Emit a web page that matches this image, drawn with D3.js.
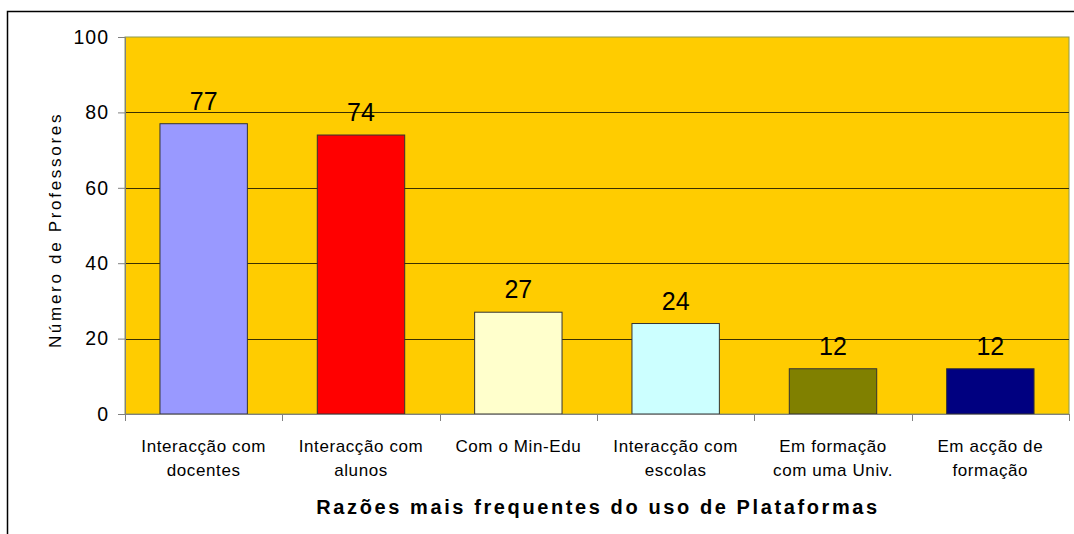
<!DOCTYPE html>
<html>
<head>
<meta charset="utf-8">
<script src="https://cdn.jsdelivr.net/npm/d3@7"></script>
<style>
  body { margin: 0; background: #fff; }
  text { font-family: "Liberation Sans", Arial, sans-serif; fill: #000; }
</style>
</head>
<body>
<div id="container"></div>
<script>
/* CONSTANTS AND GLOBALS */
const width = 1074;
const height = 534;
const margin = { top: 37, right: 5, bottom: 120, left: 125 };

/* DATA */
const categories = [
  ["Interacção com", "docentes"],
  ["Interacção com", "alunos"],
  ["Com o Min-Edu"],
  ["Interacção com", "escolas"],
  ["Em formação", "com uma Univ."],
  ["Em acção de", "formação"]
];
const values = [77, 74, 27, 24, 12, 12];
const colors = ["#9999FF", "#FF0000", "#FFFFCC", "#CCFFFF", "#808000", "#000080"];
const yTicks = [0, 20, 40, 60, 80, 100];

const svg = d3.select("#container")
  .append("svg")
  .attr("width", width)
  .attr("height", height);

// outer chart frame
svg.append("rect")
  .attr("x", 7.5).attr("y", 11.5)
  .attr("width", width + 10).attr("height", height)
  .attr("fill", "none")
  .attr("stroke", "#000")
  .attr("stroke-width", 1.5);

/* SCALES */
const xScale = d3.scaleBand()
  .domain(d3.range(values.length))
  .range([margin.left, width - margin.right])
  .paddingInner(0.8 / 1.8)
  .paddingOuter(0.4 / 1.8);

const xStep = (width - margin.right - margin.left) / values.length;

const yScale = d3.scaleLinear()
  .domain([0, 100])
  .range([height - margin.bottom, margin.top]);

// plot area background
svg.append("rect")
  .attr("x", margin.left)
  .attr("y", margin.top)
  .attr("width", width - margin.right - margin.left)
  .attr("height", yScale(0) - margin.top)
  .attr("fill", "#FFCC00")
  .attr("stroke", "#8C9A50")
  .attr("stroke-width", 1);

// gridlines
svg.append("g")
  .selectAll("line")
  .data(yTicks.filter(d => d > 0 && d < 100))
  .join("line")
  .attr("x1", margin.left)
  .attr("x2", width - margin.right)
  .attr("y1", d => Math.round(yScale(d)) + 0.5)
  .attr("y2", d => Math.round(yScale(d)) + 0.5)
  .attr("stroke", "#3a3000")
  .attr("stroke-width", 1);

/* BARS */
svg.append("g")
  .selectAll("rect")
  .data(values)
  .join("rect")
  .attr("x", (d, i) => xScale(i))
  .attr("y", d => yScale(d))
  .attr("width", xScale.bandwidth())
  .attr("height", d => yScale(0) - yScale(d))
  .attr("fill", (d, i) => colors[i])
  .attr("stroke", "#333")
  .attr("stroke-width", 1);

// value labels
svg.append("g")
  .selectAll("text")
  .data(values)
  .join("text")
  .attr("x", (d, i) => xScale(i) + xScale.bandwidth() / 2)
  .attr("y", d => yScale(d) - 14)
  .attr("text-anchor", "middle")
  .style("font-size", "25px")
  .text(d => d);

/* AXES */
const yAxis = d3.axisLeft(yScale).tickValues(yTicks).tickSize(7).tickPadding(9);
const gy = svg.append("g")
  .attr("transform", `translate(${margin.left}, 0)`)
  .call(yAxis);
gy.select(".domain").attr("stroke", "#808080");
gy.selectAll(".tick line").attr("stroke", "#808080");
gy.selectAll(".tick text")
  .attr("font-family", null)
  .style("font-size", "19.5px")
  .style("letter-spacing", "1px");

// x axis line and ticks at category boundaries
svg.append("line")
  .attr("x1", margin.left).attr("x2", width - margin.right)
  .attr("y1", yScale(0) + 0.5).attr("y2", yScale(0) + 0.5)
  .attr("stroke", "#808080");
svg.append("g")
  .selectAll("line")
  .data(d3.range(values.length + 1))
  .join("line")
  .attr("x1", i => Math.round(margin.left + i * xStep) + 0.5)
  .attr("x2", i => Math.round(margin.left + i * xStep) + 0.5)
  .attr("y1", yScale(0))
  .attr("y2", yScale(0) + 7)
  .attr("stroke", "#808080");

// category labels
const catLabels = svg.append("g")
  .selectAll("text")
  .data(categories)
  .join("text")
  .attr("x", (d, i) => xScale(i) + xScale.bandwidth() / 2)
  .attr("y", 452)
  .attr("text-anchor", "middle")
  .style("font-size", "17px")
  .style("letter-spacing", "0.6px");
catLabels.selectAll("tspan")
  .data(d => d)
  .join("tspan")
  .attr("x", function () { return this.parentNode.getAttribute("x"); })
  .attr("dy", (d, i) => i === 0 ? 0 : 24)
  .text(d => d);

/* AXIS LABELS */
svg.append("text")
  .attr("x", (margin.left + width - margin.right) / 2 + 1)
  .attr("y", 514)
  .attr("text-anchor", "middle")
  .style("font-size", "20px")
  .style("font-weight", "bold")
  .style("letter-spacing", "2.6px")
  .text("Razões mais frequentes do uso de Plataformas");

svg.append("text")
  .attr("transform", "rotate(-90)")
  .attr("x", -230)
  .attr("y", 61)
  .attr("text-anchor", "middle")
  .style("font-size", "17px")
  .style("letter-spacing", "2.7px")
  .text("Número de Professores");
</script>
</body>
</html>
